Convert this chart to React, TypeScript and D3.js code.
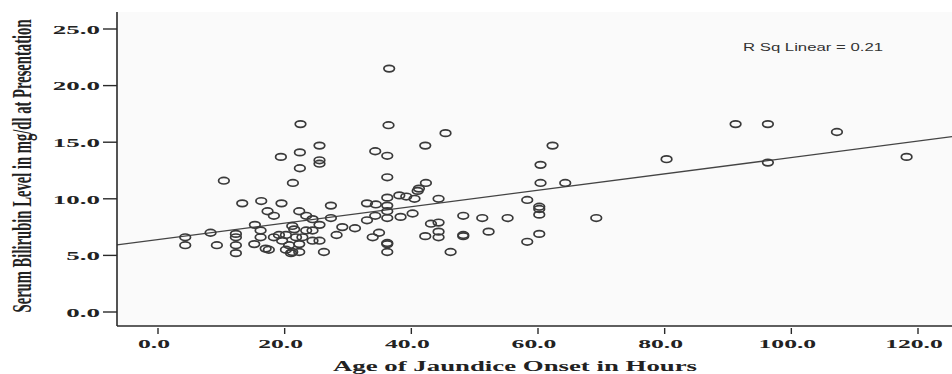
import React from 'react';
import * as d3 from 'd3';

// Age of jaundice onset (hours)
const hours = [
  36.5, 22.5, 36.4, 45.4, 42.2, 25.5, 22.4, 34.3, 36.2, 19.4,
  25.5, 25.5, 22.4, 36.2, 42.3, 21.3, 10.4, 41.2, 41.0, 36.2,
  38.1, 39.2, 40.5, 44.3, 33.0, 34.4, 36.2, 27.3, 19.5, 13.3,
  16.3, 17.3, 18.3, 22.3, 36.2, 34.3, 38.3, 40.2, 48.2, 51.2,
  55.2, 36.2, 33.0, 27.3, 23.4, 24.4, 21.2, 25.5, 29.1, 31.1,
  43.1, 44.3, 44.3, 42.2, 44.3, 48.2, 48.2, 52.2, 34.9, 33.9,
  36.2, 36.2, 36.2, 46.2, 28.2, 26.2, 23.4, 20.2, 21.8, 22.8,
  24.4, 25.5, 22.3, 20.7, 20.2, 21.2, 22.3, 21.0, 15.3, 16.2,
  4.3, 8.3, 12.3, 12.3, 4.3, 9.3, 12.3, 15.2, 12.3, 16.2,
  17.0, 17.5, 18.3, 19.1, 19.6, 62.3, 60.4, 60.4, 64.3, 58.3,
  60.2, 60.2, 60.2, 69.2, 60.2, 58.3, 91.2, 96.3, 107.2, 80.3,
  96.3, 118.2, 21.5, 24.4
];

// Serum bilirubin at presentation (mg/dl)
const bilirubin = [
  21.5, 16.6, 16.5, 15.8, 14.7, 14.7, 14.1, 14.2, 13.8, 13.7,
  13.4, 13.1, 12.7, 11.9, 11.4, 11.4, 11.6, 10.9, 10.7, 10.1,
  10.3, 10.2, 10.0, 10.0, 9.6, 9.5, 9.4, 9.4, 9.6, 9.6,
  9.8, 8.9, 8.5, 8.9, 8.9, 8.5, 8.4, 8.7, 8.5, 8.3,
  8.3, 8.3, 8.1, 8.3, 8.5, 8.2, 7.6, 7.7, 7.5, 7.4,
  7.8, 7.9, 7.1, 6.7, 6.6, 6.8, 6.7, 7.1, 7.0, 6.6,
  6.1, 6.0, 5.3, 5.3, 6.8, 5.3, 7.2, 6.8, 6.6, 6.6,
  6.3, 6.3, 6.0, 5.9, 5.5, 5.3, 5.3, 5.2, 7.7, 7.2,
  6.6, 7.0, 6.9, 6.6, 5.9, 5.9, 5.9, 6.0, 5.2, 6.6,
  5.6, 5.5, 6.6, 6.8, 6.3, 14.7, 13.0, 11.4, 11.4, 9.9,
  9.3, 9.1, 8.6, 8.3, 6.9, 6.2, 16.6, 16.6, 15.9, 13.5,
  13.2, 13.7, 7.3, 7.2
];

const xTicks = [0, 20, 40, 60, 80, 100, 120];
const yTicks = [0, 5, 10, 15, 20, 25];
const fitIntercept = 6.4;
const fitSlope = 0.0725;
const rSqLabel = 'R Sq Linear = 0.21';
const xTitle = 'Age of Jaundice Onset in Hours';
const yTitle = 'Serum Bilirubin Level in mg/dl at Presentation';

export default function App() {
  const W = 952;
  const H = 374;
  const left = 117, right = 952, top = 12, bottom = 326;
  const x = d3.scaleLinear().domain([0, 120]).range([158, 918]);
  const y = d3.scaleLinear().domain([0, 25]).range([312, 29]);
  const xMin = x.invert(left);
  const xMax = x.invert(right);
  const fitLine = d3
    .line<number>()
    .x((d) => x(d))
    .y((d) => y(fitIntercept + fitSlope * d));
  const points = hours.map((h, i) => ({ h, b: bilirubin[i] }));
  const fmt = d3.format('.1f');
  const serif = '"Liberation Serif", "Times New Roman", serif';
  const axisColor = '#2a2a2a';

  return (
    <svg
      width={W}
      height={H}
      style={{ position: 'fixed', left: 0, top: 0, background: '#fff' }}
    >
      <rect x={left} y={top} width={right - left} height={bottom - top} fill="#fafafa" />
      <path
        d={fitLine([xMin, xMax]) || ''}
        fill="none"
        stroke="#444"
        strokeWidth={1.3}
      />
      {points.map((p, i) => (
        <ellipse
          key={i}
          cx={x(p.h)}
          cy={y(p.b)}
          rx={5.3}
          ry={3.3}
          fill="none"
          stroke="#3a3a3a"
          strokeWidth={1.7}
        />
      ))}
      <line x1={left} x2={left} y1={top} y2={bottom} stroke={axisColor} strokeWidth={1.6} />
      <line x1={left} x2={right} y1={bottom} y2={bottom} stroke={axisColor} strokeWidth={1.6} />
      {yTicks.map((t) => (
        <g key={'y' + t}>
          <line x1={103} x2={left} y1={y(t)} y2={y(t)} stroke={axisColor} strokeWidth={1.4} />
          <text
            transform={`translate(100,${y(t) + 4.8}) scale(2.0,1)`}
            textAnchor="end"
            fontFamily={serif}
            fontWeight="bold"
            fontSize={13.5}
            fill="#222"
          >
            {fmt(t)}
          </text>
        </g>
      ))}
      {xTicks.map((t) => (
        <g key={'x' + t}>
          <line x1={x(t)} x2={x(t)} y1={bottom + 2} y2={bottom + 8} stroke={axisColor} strokeWidth={1.4} />
          <text
            transform={`translate(${x(t) - 4},${348}) scale(1.9,1)`}
            textAnchor="middle"
            fontFamily={serif}
            fontWeight="bold"
            fontSize={13.5}
            fill="#222"
          >
            {fmt(t)}
          </text>
        </g>
      ))}
      <text
        x={515}
        y={371}
        textAnchor="middle"
        fontFamily={serif}
        fontWeight="bold"
        fontSize={14.5}
        textLength={364}
        lengthAdjust="spacingAndGlyphs"
        fill="#222"
      >
        {xTitle}
      </text>
      <text
        transform="translate(31,166) rotate(-90) scale(1,1.9)"
        textAnchor="middle"
        fontFamily={serif}
        fontWeight="bold"
        fontSize={14.5}
        textLength={293}
        lengthAdjust="spacingAndGlyphs"
        fill="#222"
      >
        {yTitle}
      </text>
      <text
        x={743}
        y={51}
        fontFamily='"Liberation Sans", Arial, sans-serif'
        fontSize={10}
        textLength={140}
        lengthAdjust="spacingAndGlyphs"
        fill="#333"
      >
        {rSqLabel}
      </text>
    </svg>
  );
}
